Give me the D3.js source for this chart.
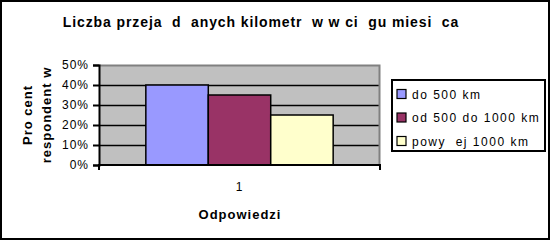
<!DOCTYPE html>
<html>
<head>
<meta charset="utf-8">
<script src="https://cdn.jsdelivr.net/npm/d3@7"></script>
<style>
    body { margin: 0; background: #fff; }
    text { font-family: "Liberation Sans", Arial, sans-serif; white-space: pre; letter-spacing: 1px; }
</style>
</head>
<body>
<div id="chart"></div>
<script>
    // Dane
    const categories = ["1"];
    const seriesNames = ["do 500 km", "od 500 do 1000 km", "powy  ej 1000 km"];
    const seriesValues = [0.40, 0.35, 0.25];
    const seriesColors = ["#9999FF", "#993366", "#FFFFCC"];
    const yTicks = [0, 0.1, 0.2, 0.3, 0.4, 0.5];

    const W = 550, H = 240;
    const margin = { top: 65, right: 170, bottom: 75, left: 99 };
    const width = 380 - margin.left;
    const height = 165 - margin.top;

    const svg = d3.select("#chart").append("svg")
        .attr("width", W).attr("height", H);

    // ramka całego wykresu
    svg.append("rect")
        .attr("x", 1).attr("y", 1).attr("width", W - 2).attr("height", H - 2)
        .attr("fill", "#fff").attr("stroke", "#000").attr("stroke-width", 2);

    svg.append("text")
        .attr("x", 261).attr("y", 27)
        .attr("text-anchor", "middle")
        .attr("font-size", "14px").attr("font-weight", "bold")
        .style("letter-spacing", "0.9px")
        .text("Liczba przeja  d  anych kilometr  w w ci  gu miesi  ca");

    const g = svg.append("g").attr("transform", `translate(${margin.left},${margin.top})`);

    const y = d3.scaleLinear().domain([0, 0.5]).range([height, 0]);
    const x0 = d3.scaleBand().domain(categories).range([0, width]);
    // gap width 150% jak w Excelu: słupki zajmują 3/4.5 kategorii
    const x1 = d3.scaleBand().domain(seriesNames)
        .range([x0.bandwidth() / 2 - x0.bandwidth() / 3, x0.bandwidth() / 2 + x0.bandwidth() / 3]);

    g.append("rect")
        .attr("width", width).attr("height", height)
        .attr("fill", "#C0C0C0");

    // linie siatki
    g.selectAll(".grid")
        .data(yTicks.slice(1, -1))
        .enter().append("line")
        .attr("x1", 0).attr("x2", width)
        .attr("y1", d => Math.round(y(d)) + 0.5).attr("y2", d => Math.round(y(d)) + 0.5)
        .attr("stroke", "#000").attr("stroke-width", 1.5);

    // obramowanie obszaru (góra i prawo szare)
    g.append("path")
        .attr("d", `M0,${y(0.5) + 0.5}H${width - 0.5}V${height}`)
        .attr("fill", "none").attr("stroke", "#808080").attr("stroke-width", 2);

    const groups = g.selectAll(".cat")
        .data(categories)
        .enter().append("g")
        .attr("transform", d => `translate(${x0(d)},0)`);

    groups.selectAll("rect")
        .data(() => seriesNames.map((s, j) => ({ s, v: seriesValues[j], c: seriesColors[j] })))
        .enter().append("rect")
        .attr("x", d => x1(d.s))
        .attr("y", d => y(d.v))
        .attr("width", x1.bandwidth())
        .attr("height", d => height - y(d.v))
        .attr("fill", d => d.c)
        .attr("stroke", "#000").attr("stroke-width", 1.5);

    // oś Y
    const yAxis = g.append("g")
        .call(d3.axisLeft(y).tickValues(yTicks).tickFormat(d3.format(".0%")).tickSize(6).tickPadding(4));
    yAxis.select(".domain").attr("stroke-width", 2);
    yAxis.selectAll(".tick line").attr("stroke-width", 2);
    yAxis.selectAll("text").attr("font-size", "12px").attr("fill", "#000")
        .style("font-family", "Liberation Sans, Arial, sans-serif");

    // oś X
    const xAxis = g.append("g")
        .attr("transform", `translate(0,${height})`)
        .call(d3.axisBottom(x0).tickSize(0).tickPadding(17));
    xAxis.select(".domain").attr("stroke-width", 2).attr("d", `M0,5V0H${width}V5`);
    xAxis.selectAll("text").attr("font-size", "12px").attr("fill", "#000")
        .style("font-family", "Liberation Sans, Arial, sans-serif");

    svg.append("text")
        .attr("x", 240).attr("y", 219)
        .attr("text-anchor", "middle")
        .attr("font-size", "13px").attr("font-weight", "bold")
        .text("Odpowiedzi");

    const yl = svg.append("text")
        .attr("transform", "translate(0,115) rotate(-90)")
        .attr("text-anchor", "middle")
        .attr("font-size", "13px").attr("font-weight", "bold");
    yl.append("tspan").attr("x", 0).attr("y", 32).text("Pro cent");
    yl.append("tspan").attr("x", 0).attr("y", 51).text("respondent w");

    // legenda
    const legend = svg.append("g").attr("transform", "translate(392,80)");
    legend.append("rect")
        .attr("width", 153).attr("height", 71)
        .attr("fill", "#fff").attr("stroke", "#000").attr("stroke-width", 2);
    const items = legend.selectAll(".item")
        .data(seriesNames)
        .enter().append("g")
        .attr("transform", (d, i) => `translate(5,${14 + i * 23.5})`);
    items.append("rect")
        .attr("x", 0).attr("y", -4.5).attr("width", 9).attr("height", 9)
        .attr("fill", (d, i) => seriesColors[i])
        .attr("stroke", "#000").attr("stroke-width", 1.2);
    items.append("text")
        .attr("x", 15).attr("y", 4.5)
        .attr("font-size", "12px")
        .style("letter-spacing", "1.5px")
        .text(d => d);
</script>
</body>
</html>
